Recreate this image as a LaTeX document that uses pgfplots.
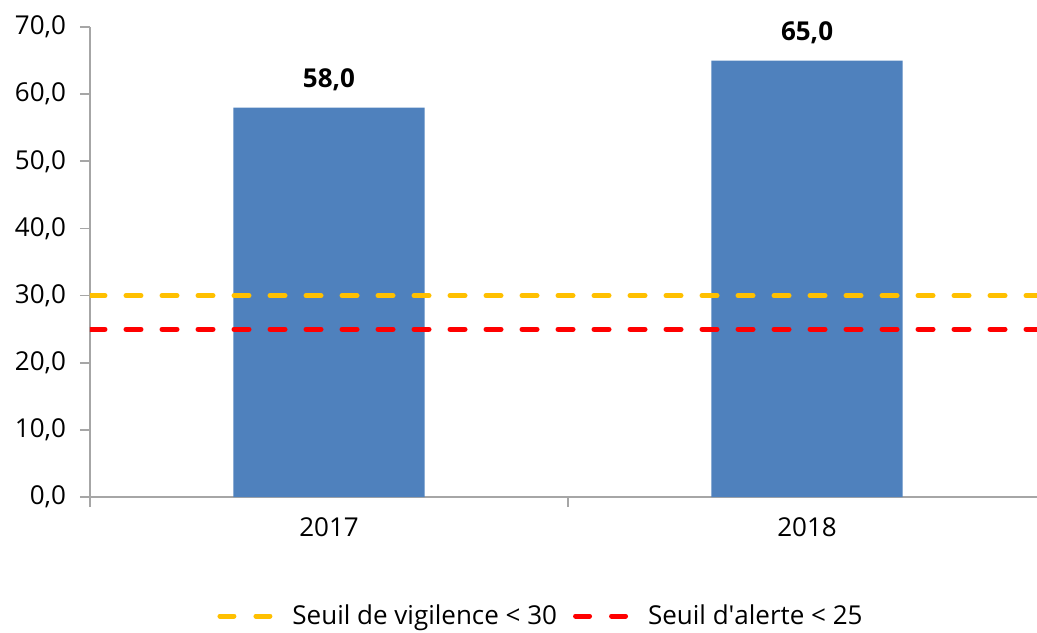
\documentclass[border=0pt]{standalone}
\usepackage{pgfplots}
\pgfplotsset{compat=1.18}
\usepackage{fontspec}
\setmainfont{Open Sans}
\definecolor{barblue}{HTML}{4F81BD}
\definecolor{vigil}{HTML}{FFC000}
\definecolor{alerte}{HTML}{FF0000}
\definecolor{axisgray}{HTML}{A6A6A6}
\begin{document}
\begin{tikzpicture}
\begin{axis}[
    name=ax,
    scale only axis,
    width=473.5pt, height=235pt,
    xmin=-0.5, xmax=1.481,
    ymin=0, ymax=70,
    ytick={0,10,...,70},
    xtick={-0.5,0.5,1.5},
    xticklabels={},
    extra x ticks={0,1},
    extra x tick labels={2017,2018},
    extra x tick style={major tick length=0pt},
    axis x line*=bottom, axis y line*=left,
    axis line style={axisgray, line width=0.8pt, -},
    tick style={axisgray, line width=0.8pt},
    tick align=outside,
    major tick length=5pt,
    ticklabel style={font=\fontsize{13}{15}\selectfont, text=black},
    yticklabel style={xshift=-3.5pt, /pgf/number format/.cd, fixed, fixed zerofill, precision=1, use comma, assume math mode=true},
    xticklabel style={yshift=-7pt},
    legend style={at={(226pt,-59.5pt)}, anchor=center, draw=none,
        font=\fontsize{13}{15}\selectfont, legend columns=-1,
        /tikz/every even column/.append style={column sep=6pt},
        /tikz/every odd column/.append style={column sep=4pt}},
    legend image code/.code={
        \draw[#1, dash pattern=on 7pt off 11pt] (0pt,0pt) -- (29pt,0pt);
    },
]
\addplot[ybar, bar width=0.4, fill=barblue, draw=none, forget plot,
    nodes near coords,
    nodes near coords style={font=\fontsize{13}{15}\selectfont\bfseries, text=black, yshift=5pt,
        /pgf/number format/.cd, fixed, fixed zerofill, precision=1, use comma, assume math mode=true}]
    coordinates {(0,58) (1,65)};
\addplot[vigil, line width=2.5pt, line cap=round, dash pattern=on 7.5pt off 10.5pt]
    coordinates {(-0.5,30) (1.481,30)};
\addplot[alerte, line width=2.5pt, line cap=round, dash pattern=on 7.5pt off 10.5pt]
    coordinates {(-0.5,25) (1.481,25)};
\legend{Seuil de vigilence < 30, Seuil d\textquotesingle alerte < 25}
\end{axis}
\pgfresetboundingbox
\path[use as bounding box] ([shift={(-45pt,-67.5pt)}]ax.south west) rectangle ([shift={(0pt,13.5pt)}]ax.north east);
\end{tikzpicture}
\end{document}
